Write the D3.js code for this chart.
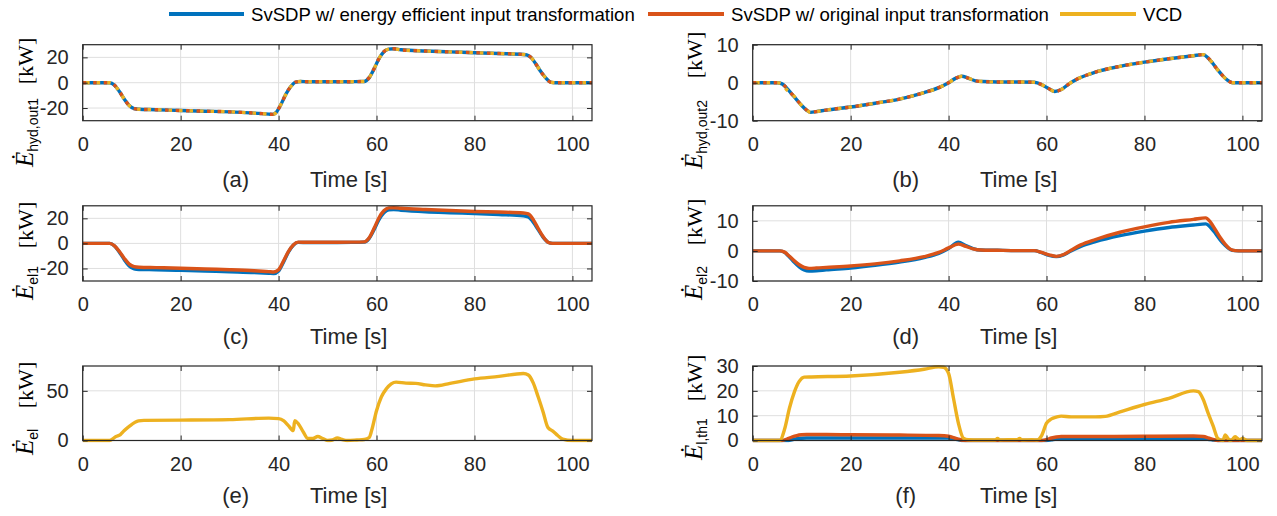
<!DOCTYPE html>
<html><head><meta charset="utf-8">
<script src="https://cdn.jsdelivr.net/npm/d3@7"></script>
<style>body{margin:0;background:#fff}svg{display:block}</style>
</head><body>
<svg id="chart" width="1277" height="516"></svg>
<script>
// ---------------- DATA ----------------
const legendLabels = ["SvSDP w/ energy efficient input transformation", "SvSDP w/ original input transformation", "VCD"];
const xTicks = [0, 20, 40, 60, 80, 100];
const xLimit = [0, 104];

// (a) hyd,out1
const tA = [0,5.5,6.5,7.5,8.5,9.5,10.5,11.5,15,20,25,30,35,38,38.8,39.5,40.5,41.5,42.5,43.5,44.5,46,48,50,52,55,57.5,58.5,59.5,60.5,61.5,62.5,63.5,65,70,75,80,85,90,90.8,91.5,92.5,93.5,94.5,95.5,96.5,100,104];
const hydOut1Eff  = [0,0,-2,-7,-13,-18,-20.5,-21,-21.3,-22,-22.5,-23,-24,-24.8,-25,-23.5,-17,-9,-3,0.5,1,0.7,0.7,0.7,0.7,0.8,1,4,11,19,24.5,26.5,26.8,26,25,24.3,23.7,23,22.3,21.8,20,15,9,4,0.5,0,0,0];
const hydOut1Orig = [0,0,-2,-7,-13,-18,-20.5,-21,-21.3,-22,-22.5,-23,-24,-24.8,-25,-23.5,-17,-9,-3,0.5,1,0.7,0.7,0.7,0.7,0.8,1,4,11,19,24.5,26.5,26.8,26,25,24.3,23.7,23,22.3,21.8,20,15,9,4,0.5,0,0,0];
const hydOut1VCD  = [0,0,-2,-7,-13,-18,-20.5,-21,-21.3,-22,-22.5,-23,-24,-24.8,-25,-23.5,-17,-9,-3,0.5,1,0.7,0.7,0.7,0.7,0.8,1,4,11,19,24.5,26.5,26.8,26,25,24.3,23.7,23,22.3,21.8,20,15,9,4,0.5,0,0,0];

// (b) hyd,out2
const tB = [0,5,6,7,8,9,10,11,11.8,13,15,20,25,30,35,38,40,41.5,42.7,44,45.5,47,50,55,57.5,59,60.5,61.7,63,64.6,66,68,70,75,80,85,90,92,93,94,95,96,97,98,100,104];
const hydOut2Eff  = [0,0,-0.3,-1.5,-3,-4.5,-6,-7.2,-7.8,-7.6,-7.2,-6.4,-5.4,-4.3,-2.6,-1.3,0,1.2,1.7,1.2,0.5,0.3,0.2,0.2,0.1,-0.5,-1.6,-2.3,-1.8,-0.3,0.8,1.9,2.8,4.3,5.4,6.3,7.1,7.4,6.5,5,3.3,1.8,0.6,0,0,0];
const hydOut2Orig = [0,0,-0.3,-1.5,-3,-4.5,-6,-7.2,-7.8,-7.6,-7.2,-6.4,-5.4,-4.3,-2.6,-1.3,0,1.2,1.7,1.2,0.5,0.3,0.2,0.2,0.1,-0.5,-1.6,-2.3,-1.8,-0.3,0.8,1.9,2.8,4.3,5.4,6.3,7.1,7.4,6.5,5,3.3,1.8,0.6,0,0,0];
const hydOut2VCD  = [0,0,-0.3,-1.9,-2.8,-4.5,-6,-7.2,-7.8,-7.6,-7.2,-6.4,-5.4,-4.3,-2.6,-1.3,0,1.2,1.7,1.2,0.5,0.3,0.2,0.2,0.1,-0.5,-1.6,-2.3,-1.8,-0.3,0.8,1.9,2.8,4.3,5.4,6.3,7.1,7.4,6.5,5,3.3,1.8,0.6,0,0,0];

// (c) el1
const tC = [0,5.5,6.5,7.5,8.5,9.5,10.5,11.5,15,20,25,30,35,38,39,40,41,42,43,44,46,50,55,57.5,58.5,59.5,60.5,61.5,62.5,63.5,65,70,75,80,85,90,91,92,93,94,95,96,100,104];
const el1Eff  = [0,0,-2,-7,-13,-18,-20.3,-20.8,-21,-21.5,-22,-22.6,-23.2,-23.8,-24,-22,-15,-7,-1.5,0.8,0.7,0.7,0.8,1,4,11,19,24.5,26.8,27,26.5,25.3,24.5,23.8,23,22,21,17,11,5,1,0,0,0];
const el1Orig = [0,0,-2,-6.5,-12,-16.5,-18.5,-19,-19.3,-19.8,-20.4,-21,-21.8,-22.5,-22.8,-21,-14,-6.5,-1.2,1,0.9,0.9,1,1.2,4.5,12,20.5,26,28.3,28.5,28,27,26.2,25.5,25,24.3,23.5,19,12,5.5,1,0,0,0];

// (d) el2
const tD = [0,5.5,6.5,7.5,8.5,9.5,10.5,11.5,13,15,20,25,30,35,38,40,42,43.5,45,46.5,50,55,57.5,59,60.5,62,63.5,65,67,70,75,80,85,90,92.5,93.5,94.5,95.5,96.5,97.5,98.5,100,104];
const el2Eff  = [0,0,-0.5,-2,-3.8,-5.3,-6.3,-6.7,-6.6,-6.3,-5.7,-4.8,-3.7,-2.2,-0.8,0.8,2.9,1.8,0.8,0.3,0.2,0.1,0.1,-0.6,-1.5,-1.9,-1.3,0,1.5,3.1,5.1,6.6,7.8,8.6,9,7.8,5.8,3.6,1.8,0.5,0.1,0,0];
const el2Orig = [0,0,-0.4,-1.8,-3.3,-4.6,-5.5,-5.8,-5.7,-5.5,-5,-4.3,-3.3,-1.9,-0.5,1,2.3,1.5,0.7,0.3,0.2,0.1,0.1,-0.5,-1.3,-1.8,-1.2,0.2,2,3.8,6.2,8,9.5,10.5,11,9.5,7,4.4,2.2,0.6,0.1,0,0];

// (e) el (VCD)
const tE = [0,5.5,6.8,7.7,8.5,9.7,11.4,12.5,20,30,38,40,41,42,43,43.3,44,45,46,47,48,49,50,51,52,53,54,56,57.5,58.5,59,60,61,62,63,64,66,68,70,72,75,80,85,90,91,92,93,94,95,96,97,98,100,104];
const elVCD = [0,0,4,6,10,15,19.7,20.3,20.5,21,22.5,22,20,15,10,20,17,9,2,2,4,2,0,0.5,2.5,1,0,0.5,1,3,10,30,44,52,57,58.8,57.8,57.5,56,55,57.5,62,64.5,67.5,66,58,44,29,13,9.5,5,1.5,0,0];

// (f) l,th1
const tFV = [0,5.5,6.5,7.5,8.5,9.5,10.5,12,20,30,35,38,39,40,41,42,43,44,46,48,49.5,50,50.5,52,54,54.5,55,55.5,57,58,59,60,61,62,63,65,70,72,75,80,85,90,91,92,93,94,95,96,96.5,97,97.5,98,98.5,99,99.5,100,101,104];
const lth1VCD = [0,0,4.5,13,19.5,23.8,25.5,25.6,26,27.5,28.7,29.7,29.5,27,17,7,1,0.3,0.2,0.2,0.2,0.8,0.2,0.3,0.3,0.8,0.2,0.2,0.3,0.2,2,7,8.7,9.4,9.8,9.5,9.5,9.7,11.5,14.5,17,20,19.7,16.5,11,6,0.8,0,2.2,1,0,0.5,1.5,0.8,0.3,0.8,0,0];
const tFO = [0,6,7,8,9,10,11,15,20,30,38,40,41,42,43,44,59,60,61,62,63,70,80,90,92,93,94,95,104];
const lth1Orig = [0,0,0.6,1.4,2,2.3,2.4,2.4,2.3,2.2,2,1.7,1.2,0.5,0.1,0,0,0.4,1,1.4,1.6,1.6,1.7,1.8,1.6,1.1,0.4,0,0];
const tFE = [0,7,8,9,10,11,20,30,40,41,42,43,60,61,62,63,70,80,90,92,93,94,95,104];
const lth1Eff = [0,0,0.3,0.7,0.9,1,1,1,1,0.7,0.3,0,0,0.3,0.6,0.7,0.7,0.7,0.7,0.7,0.5,0.2,0,0];

// ---------------- STYLE / LAYOUT ----------------
const BLUE = "#0072BD", RED = "#D95319", YEL = "#EDB120";
const TXT = "#262626";
const SANS = "'Liberation Sans', Arial, Helvetica, sans-serif";
const SERIF = "'Liberation Serif', 'Times New Roman', serif";
const colX = [82.7, 752.7], plotW = 509.3;
const rowY = [[44.7, 120.7], [205.8, 281], [366, 440.5]];
const rowLbl = [66, 63, 62];
const fmt = d => String(d);

const panels = [
  {tag:"(a)", col:0, row:0, ylim:[-30,30], yticks:[-20,0,20], sub:"hyd,out1", dotted:true,
   series:[{t:tA,v:hydOut1Eff,c:BLUE},{t:tA,v:hydOut1Orig,c:RED},{t:tA,v:hydOut1VCD,c:YEL}]},
  {tag:"(b)", col:1, row:0, ylim:[-10,10], yticks:[-10,0,10], sub:"hyd,out2", dotted:true,
   series:[{t:tB,v:hydOut2Eff,c:BLUE},{t:tB,v:hydOut2Orig,c:RED},{t:tB,v:hydOut2VCD,c:YEL}]},
  {tag:"(c)", col:0, row:1, ylim:[-30,30], yticks:[-20,0,20], sub:"el1",
   series:[{t:tC,v:el1Eff,c:BLUE},{t:tC,v:el1Orig,c:RED}]},
  {tag:"(d)", col:1, row:1, ylim:[-10,15], yticks:[-10,0,10], sub:"el2",
   series:[{t:tD,v:el2Eff,c:BLUE},{t:tD,v:el2Orig,c:RED}]},
  {tag:"(e)", col:0, row:2, ylim:[0,75], yticks:[0,50], sub:"el",
   series:[{t:tE,v:elVCD,c:YEL}]},
  {tag:"(f)", col:1, row:2, ylim:[0,30], yticks:[0,10,20,30], sub:"l,th1",
   series:[{t:tFE,v:lth1Eff,c:BLUE},{t:tFO,v:lth1Orig,c:RED},{t:tFV,v:lth1VCD,c:YEL}]}
];
const ylabelPos = {
  "(a)":{x:33, eBottom:167, kw:61}, "(b)":{x:702, eBottom:169, kw:55},
  "(c)":{x:33, eBottom:300, kw:225}, "(d)":{x:702, eBottom:300, kw:222},
  "(e)":{x:33, eBottom:455, kw:385}, "(f)":{x:702, eBottom:460, kw:378}
};

const svg = d3.select("#chart");
const defs = svg.append("defs");

panels.forEach((p, i) => {
  const x0 = colX[p.col], x1 = x0 + plotW;
  const [y0, y1] = rowY[p.row];
  const x = d3.scaleLinear().domain(xLimit).range([x0, x1]);
  const y = d3.scaleLinear().domain(p.ylim).range([y1, y0]);
  const g = svg.append("g");

  // grid
  g.selectAll(null).data(xTicks).join("line")
    .attr("x1", d => x(d)).attr("x2", d => x(d)).attr("y1", y0).attr("y2", y1)
    .attr("stroke", "#dfdfdf").attr("stroke-width", 1);
  g.selectAll(null).data(p.yticks).join("line")
    .attr("x1", x0).attr("x2", x1).attr("y1", d => y(d)).attr("y2", d => y(d))
    .attr("stroke", "#dfdfdf").attr("stroke-width", 1);

  // clip
  defs.append("clipPath").attr("id", "clip" + i).append("rect")
    .attr("x", x0).attr("y", y0 - 2).attr("width", plotW).attr("height", y1 - y0 + 4);

  const line = d3.line().x(d => x(d[0])).y(d => y(d[1])).curve(d3.curveMonotoneX);
  const lg = g.append("g").attr("clip-path", `url(#clip${i})`);
  p.series.forEach((s, k) => {
    const pts = s.t.map((t, j) => [t, s.v[j]]);
    const path = lg.append("path").attr("d", line(pts)).attr("fill", "none")
      .attr("stroke", s.c).attr("stroke-width", 3.4).attr("stroke-linejoin", "round");
    if (p.dotted) {
      if (k === 1) path.attr("stroke-dasharray", "3.5,7");
      if (k === 2) path.attr("stroke-dasharray", "3.5,7").attr("stroke-dashoffset", -3.5);
    }
  });

  // axes with inward ticks on all 4 sides
  const tl = 5;
  const axB = d3.axisBottom(x).tickValues(xTicks).tickSize(-tl).tickPadding(tl + 11).tickFormat(fmt);
  const axT = d3.axisTop(x).tickValues(xTicks).tickSize(-tl).tickFormat("");
  const axL = d3.axisLeft(y).tickValues(p.yticks).tickSize(-tl).tickPadding(tl + 9).tickFormat(fmt);
  const axR = d3.axisRight(y).tickValues(p.yticks).tickSize(-tl).tickFormat("");
  [[axB, `translate(0,${y1})`], [axT, `translate(0,${y0})`], [axL, `translate(${x0},0)`], [axR, `translate(${x1},0)`]]
    .forEach(([ax, tr]) => {
      const a = g.append("g").attr("transform", tr).call(ax);
      a.select(".domain").remove();
      a.selectAll("line").attr("stroke", TXT).attr("stroke-width", 1);
      a.selectAll("text").attr("fill", TXT).attr("font-family", SANS).attr("font-size", 20);
    });
  g.append("rect").attr("x", x0).attr("y", y0).attr("width", plotW).attr("height", y1 - y0)
    .attr("fill", "none").attr("stroke", TXT).attr("stroke-width", 1.2);

  // x label
  const lblY = y1 + rowLbl[p.row];
  g.append("text").attr("x", x0 + 153).attr("y", lblY).attr("text-anchor", "middle")
    .attr("font-family", SANS).attr("font-size", 22).attr("fill", TXT).text(p.tag);
  g.append("text").attr("x", x0 + 266).attr("y", lblY).attr("text-anchor", "middle")
    .attr("font-family", SANS).attr("font-size", 22).attr("fill", TXT).text("Time [s]");

  // y label
  const lp = ylabelPos[p.tag];
  const t1 = g.append("text").attr("transform", `translate(${lp.x},${lp.eBottom}) rotate(-90)`)
    .attr("fill", "#000");
  t1.append("tspan").attr("font-family", SERIF).attr("font-style", "italic").attr("font-size", 25).text("Ė");
  t1.append("tspan").attr("font-family", SANS).attr("font-size", 14).attr("dy", 5).text(p.sub);
  g.append("text").attr("transform", `translate(${lp.x},${lp.kw}) rotate(-90)`)
    .attr("text-anchor", "middle").attr("font-family", SERIF).attr("font-size", 22).attr("fill", "#000").text("[kW]");
});

// legend
const legend = [
  {x1:169, x2:244, tx:251, c:BLUE, label:legendLabels[0]},
  {x1:648, x2:724, tx:731, c:RED, label:legendLabels[1]},
  {x1:1060, x2:1136, tx:1143, c:YEL, label:legendLabels[2]}
];
const lgG = svg.append("g");
legend.forEach(l => {
  lgG.append("line").attr("x1", l.x1).attr("x2", l.x2).attr("y1", 14).attr("y2", 14)
    .attr("stroke", l.c).attr("stroke-width", 4);
  lgG.append("text").attr("x", l.tx).attr("y", 20.5).attr("font-family", SANS).attr("font-size", 18.6)
    .attr("fill", "#000").text(l.label);
});
</script>
</body></html>
